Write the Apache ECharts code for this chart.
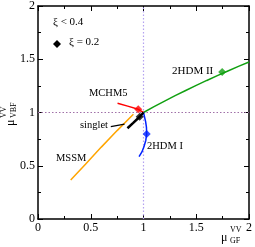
<!DOCTYPE html>
<html><head><meta charset="utf-8">
<script src="https://cdn.jsdelivr.net/npm/echarts@6/dist/echarts.min.js"></script>
<style>html,body{margin:0;padding:0;background:#fff}#c{width:255px;height:247px}</style>
</head><body><div id="c"></div>
<script>
// ---- data ----
const xTicks = [0, 0.5, 1, 1.5, 2];
const yTicks = [0, 0.5, 1, 1.5, 2];
const refVertical = [[1, 0], [1, 2]];
const refHorizontal = [[0, 1], [2, 1]];
const thdm2 = [[1,1],[1.1,1.055],[1.2,1.107],[1.3,1.158],[1.4,1.207],[1.5,1.255],[1.6,1.301],[1.7,1.346],[1.8,1.390],[1.9,1.433],[2,1.474]];
const thdm2Mark = [[1.746, 1.38]];
const mchm5 = [[1,1],[0.95,1.03],[0.85,1.06],[0.754,1.086]];
const mchm5Mark = [[0.95, 1.03]];
const singlet = [[1,1],[0.964,0.96],[0.9,0.9],[0.848,0.852]];
const singletMark = [[0.964, 0.96]];
const singletArrow = [[0.69, 0.867], [0.82, 0.89]];
const mssm = [[0.31,0.366],[0.45,0.515],[0.6,0.675],[0.75,0.83],[0.904,0.983]];
const thdm1 = [[1,1],[1.02,0.914],[1.028,0.86],[1.03,0.798],[1.022,0.74],[1.005,0.68],[0.985,0.63],[0.958,0.585]];
const thdm1Mark = [[1.03, 0.798]];

const FF = '"Liberation Serif","DejaVu Serif",serif';
const chart = echarts.init(document.getElementById('c'), null, {renderer:'canvas'});

function axisCommon(show){
  return {
    type:'value', min:0, max:2, interval:0.5,
    axisLine:{show:true, onZero:false, lineStyle:{color:'#000', width:1.5}},
    axisTick:{show:true, inside:true, length:5, lineStyle:{color:'#000', width:1}},
    minorTick:{show:true, splitNumber:2, length:3, lineStyle:{color:'#000', width:1}},
    splitLine:{show:false}, minorSplitLine:{show:false},
    axisLabel:{show:show, color:'#000', fontFamily:FF, fontSize:12, margin:3}
  };
}
function lineS(data, color, w, type){
  return {type:'line', data:data, showSymbol:false, symbol:'none', silent:true, animation:false,
    lineStyle:{color:color, width:w, type:type||'solid'}, z:type?1:3};
}
function markS(data, color){
  return {type:'scatter', data:data, symbol:'diamond', symbolSize:8, itemStyle:{color:color}, animation:false, z:5};
}

const opt = {
  animation:false,
  grid:{left:38, top:6, width:213, height:213},
  xAxis:[Object.assign(axisCommon(true), {position:'bottom'}), Object.assign(axisCommon(false), {position:'top'})],
  yAxis:[Object.assign(axisCommon(true), {position:'left'}), Object.assign(axisCommon(false), {position:'right'})],
  series:[
    lineS(refVertical, '#b4a2f0', 1.2, [1.5,2]),
    lineS(refHorizontal, '#a070a8', 1.2, [1.5,2]),
    lineS(mssm, '#ffa500', 1.5),
    lineS(thdm2, '#11a011', 1.5),
    lineS(mchm5, '#ff0000', 1.5),
    lineS(thdm1, '#0022ff', 1.5),
    Object.assign(lineS(singlet, '#000000', 2.5), {
      markLine:{silent:true, animation:false, symbol:['none','arrow'], symbolSize:[0,7],
        lineStyle:{color:'#000', width:1.2, type:'solid'}, label:{show:false},
        data:[[{coord:singletArrow[0]},{coord:singletArrow[1]}]]}
    }),
    markS(thdm2Mark, '#11a011'),
    markS(mchm5Mark, '#ff0000'),
    markS(singletMark, '#000000'),
    markS(thdm1Mark, '#0022ff')
  ],
  graphic:[
    {type:'text', left:53, top:17, style:{text:'ξ < 0.4', font:'11px '+FF, fill:'#000'}},
    {type:'polygon', shape:{points:[[57,40],[61,44],[57,48],[53,44]]}, style:{fill:'#000'}},
    {type:'text', left:69, top:37, style:{text:'ξ = 0.2', font:'11px '+FF, fill:'#000'}},
    {type:'text', left:89, top:88, style:{text:'MCHM5', font:'10.5px '+FF, fill:'#000'}},
    {type:'text', left:80, top:120, style:{text:'singlet', font:'10.5px '+FF, fill:'#000'}},
    {type:'text', left:56, top:153, style:{text:'MSSM', font:'10.5px '+FF, fill:'#000'}},
    {type:'text', left:147, top:141, style:{text:'2HDM I', font:'10.5px '+FF, fill:'#000'}},
    {type:'text', left:172, top:66, style:{text:'2HDM II', font:'11px '+FF, fill:'#000'}},
    // x axis title
    {type:'text', left:221, top:232, style:{text:'μ', font:'12px '+FF, fill:'#000'}},
    {type:'text', left:230, top:226, style:{text:'VV', font:'8px '+FF, fill:'#000'}},
    {type:'text', left:230, top:237, style:{text:'GF', font:'8px '+FF, fill:'#000'}},
    // y axis title (rotated)
    {type:'group', x:14, y:126, rotation:Math.PI/2, children:[
      {type:'text', x:0, y:-9, style:{text:'μ', font:'12px '+FF, fill:'#000'}},
      {type:'text', x:8, y:-14, style:{text:'VV', font:'8px '+FF, fill:'#000'}},
      {type:'text', x:8, y:-4, style:{text:'VBF', font:'8px '+FF, fill:'#000'}}
    ]}
  ]
};
chart.setOption(opt);
</script></body></html>
